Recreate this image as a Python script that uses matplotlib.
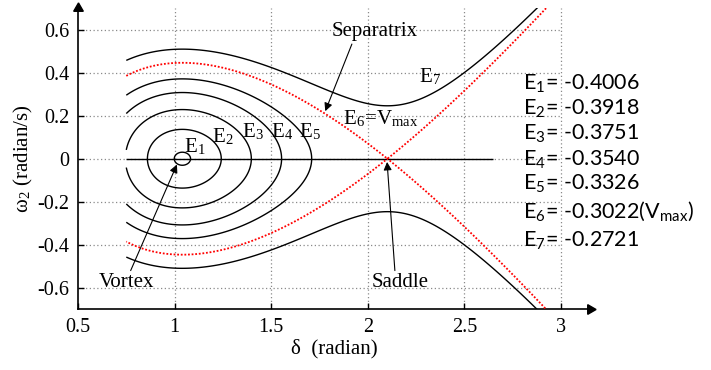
"""
Phase portrait of the SMIB system: energy contours around the vortex,
separatrix through the saddle (E6 = Vmax).
"""

import numpy as np
import matplotlib
matplotlib.use('Agg')
import matplotlib.pyplot as plt

plt.rcParams['mathtext.fontset'] = 'stix'
SERIF = 'Liberation Serif'
SANS = 'Lato'

# ── data ──────────────────────────────────────────────────────────────────────
levels      = [-0.4006, -0.3918, -0.3751, -0.3540, -0.3326, -0.3022, -0.2721]
level_names = ['E$_{\\mathregular{%d}}$' % i for i in range(1, 8)]
x_ticks     = [0.5, 1, 1.5, 2, 2.5, 3]
x_ticklbl   = ['0.5', '1', '1.5', '2', '2.5', '3']
y_ticks     = [-0.6, -0.4, -0.2, 0, 0.2, 0.4, 0.6]
y_ticklbl   = ['-0.6', '-0.4', '-0.2', '0', '0.2', '0.4', '0.6']

# system constants
DELTA_S = 1.04                 # stable equilibrium (vortex)
DELTA_U = np.pi - DELTA_S      # unstable equilibrium (saddle)
M       = 0.994
PMAX    = 1.02
PM      = PMAX * np.sin(DELTA_S)
D_MIN, D_MAX = 0.75, 3.0       # delta range where curves are drawn

# ── energy function on a grid ─────────────────────────────────────────────────
d = np.linspace(D_MIN, D_MAX, 1500)
w = np.linspace(-0.72, 0.72, 1500)
DD, WW = np.meshgrid(d, w)
V = (0.5 * M * WW**2 - PM * (DD - DELTA_U)
     - PMAX * (np.cos(DD) - np.cos(DELTA_U)) + levels[5])
inner = d < DELTA_U            # closed orbits live left of the saddle

fig = plt.figure(figsize=(7.11, 3.70), dpi=100)
ax = fig.add_axes([0.1097, 0.164, 0.72, 0.814])
ax.set_xlim(0.5, 3.15)
ax.set_ylim(-0.7, 0.7)

# grid (dotted, stops at delta = 3)
ax.vlines(x_ticks[1:], -0.7, 0.7, colors='#8a8a8a', linestyles=(0, (1, 2)), lw=0.9, zorder=1)
ax.hlines(y_ticks, 0.5, 3.0, colors='#8a8a8a', linestyles=(0, (1, 2)), lw=0.9, zorder=1)

ax.contour(DD[:, inner], WW[:, inner], V[:, inner], levels=levels[:5],
           colors='k', linewidths=1.0, linestyles='solid', zorder=3)
ax.contour(DD, WW, V, levels=[levels[6]], colors='k', linewidths=1.0,
           linestyles='solid', zorder=3)
ax.contour(DD, WW, V, levels=[levels[5]], colors='red',
           linewidths=1.3, linestyles=[(0, (1, 1))], zorder=4)

ax.hlines(0, D_MIN, 2.65, colors='k', lw=1.0, zorder=2)

# ── spines with arrow heads ───────────────────────────────────────────────────
for s in ['top', 'right']:
    ax.spines[s].set_visible(False)
for s in ['left', 'bottom']:
    ax.spines[s].set_linewidth(1.2)
ax.plot(1, 0, marker=(3, 0, -90), ms=8, color='k', transform=ax.transAxes, clip_on=False)
ax.plot(0, 1, marker=(3, 0, 0), ms=8, color='k', transform=ax.transAxes, clip_on=False)

ax.set_xticks(x_ticks)
ax.set_xticklabels(x_ticklbl, family=SERIF, fontsize=14.5)
ax.set_yticks(y_ticks)
ax.set_yticklabels(y_ticklbl, family=SERIF, fontsize=14.5)
ax.tick_params(direction='in', length=4, width=1, pad=6)

ax.set_xlabel('δ  (radian)', family=SERIF, fontsize=15, labelpad=2)
ax.set_ylabel('ω$_{\\mathregular{2}}$ (radian/s)', family=SERIF, fontsize=15, labelpad=2)

# ── curve labels ──────────────────────────────────────────────────────────────
lab_pos = [(1.106, 0.055), (1.251, 0.10), (1.405, 0.125), (1.555, 0.125), (1.702, 0.125)]
for (x, y), name in zip(lab_pos, level_names[:5]):
    ax.text(x, y, name, family=SERIF, fontsize=15, ha='center', va='center')
ax.text(2.324, 0.38, level_names[6], family=SERIF, fontsize=15, ha='center', va='center')
ax.text(2.065, 0.185, level_names[5] + '=V$_{\\mathregular{max}}$', family=SERIF,
        fontsize=15, ha='center', va='center')

arr = dict(arrowstyle='-|>', color='k', lw=0.8, mutation_scale=12, shrinkA=0, shrinkB=0)
ax.annotate('Separatrix', xy=(1.78, 0.221), xytext=(2.035, 0.59), family=SERIF,
            fontsize=15, ha='center', va='center',
            arrowprops=dict(arr, relpos=(0.25, 0.0)))
ax.annotate('Vortex', xy=(1.012, -0.027), xytext=(0.752, -0.577), family=SERIF,
            fontsize=15, ha='center', va='center',
            arrowprops=dict(arr, relpos=(0.55, 1.0)))
ax.annotate('Saddle', xy=(2.10, -0.015), xytext=(2.165, -0.577), family=SERIF,
            fontsize=15, ha='center', va='center',
            arrowprops=dict(arr, relpos=(0.42, 1.0)))

# ── energy values ─────────────────────────────────────────────────────────────
text_y = [0.354, 0.238, 0.121, 0.0, -0.112, -0.244, -0.376]
for i, (name, val, ty) in enumerate(zip(level_names, levels, text_y)):
    s = name + '= %.4f' % val
    if i == 5:
        s += '(V$_{\\mathregular{max}}$)'
    ax.text(2.806, ty, s, family=SANS, fontsize=15.5, ha='left', va='center')

fig.savefig('out.png', dpi=100)
